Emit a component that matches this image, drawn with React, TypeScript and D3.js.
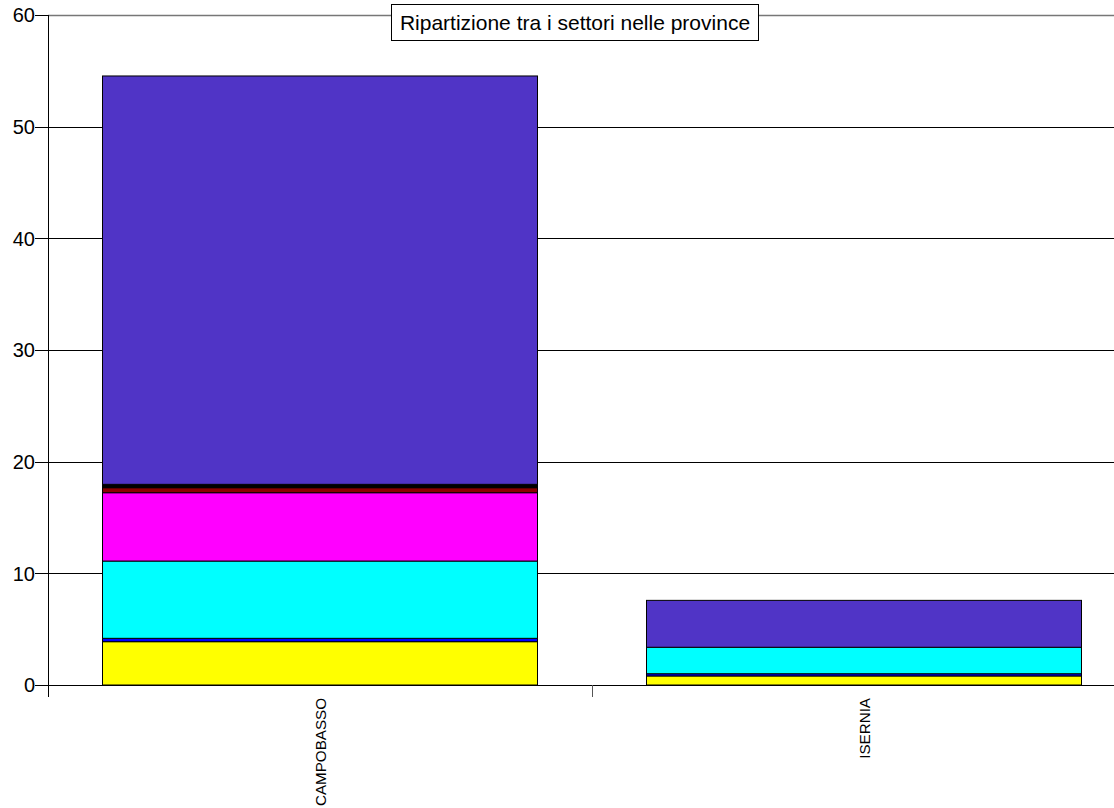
import React from "react";
import * as d3 from "d3";

const categories = ["CAMPOBASSO", "ISERNIA"];
const seriesNames = ["Settore A", "Settore B", "Settore C", "Settore D", "Settore E", "Settore F", "Settore G"];
const seriesColors = ["#ffff00", "#0000ff", "#00ffff", "#ff00ff", "#8b0000", "#000000", "#5034c6"];
const campobassoValues = [3.88, 0.3, 6.92, 6.12, 0.45, 0.3, 36.57];
const iserniaValues = [0.81, 0.2, 2.37, 0, 0, 0, 4.2];
const yTicks = [0, 10, 20, 30, 40, 50, 60];
const title = "Ripartizione tra i settori nelle province";

const W = 1114;
const H = 808;
const left = 48;
const top = 15;
const bottom = 685;
const right = 1136;
const font = "'Liberation Sans', Arial, sans-serif";

export default function App() {
  const rows = categories.map((c, i) => {
    const vals = i === 0 ? campobassoValues : iserniaValues;
    const r: any = { cat: c };
    seriesNames.forEach((s, j) => (r[s] = vals[j]));
    return r;
  });
  const stacked = d3.stack().keys(seriesNames)(rows);
  const x = d3.scaleBand().domain(categories).range([left, right]).paddingInner(0.2).paddingOuter(0.1);
  const y = d3.scaleLinear().domain([0, 60]).range([bottom, top]);
  const step = x.step();

  return (
    <svg width={W} height={H} style={{ position: "fixed", left: 0, top: 0, background: "#fff" }}>
      <rect x={0} y={0} width={W} height={H} fill="#fff" />
      {yTicks.map((t) => (
        <g key={t}>
          <line x1={left} x2={W} y1={Math.round(y(t)) + 0.5} y2={Math.round(y(t)) + 0.5} stroke={t === 60 ? "#777" : "#000"} strokeWidth={t === 60 ? 1.5 : 1} />
          <line x1={left - 13} x2={left} y1={Math.round(y(t)) + 0.5} y2={Math.round(y(t)) + 0.5} stroke="#000" />
          <text x={left - 13} y={y(t)} dy="0.36em" textAnchor="end" fontFamily={font} fontSize={20} fill="#000">
            {t}
          </text>
        </g>
      ))}
      {stacked.map((layer, li) =>
        layer.map((d, di) => {
          const h = y(d[0]) - y(d[1]);
          if (h <= 0) return null;
          return (
            <rect
              key={li + "-" + di}
              x={Math.round(x(categories[di])!) + 0.5}
              y={y(d[1])}
              width={Math.round(x.bandwidth())}
              height={h}
              fill={seriesColors[li]}
              stroke="#000"
              strokeWidth={1}
            />
          );
        })
      )}
      <line x1={left + 0.5} x2={left + 0.5} y1={top} y2={bottom + 12} stroke="#000" />
      <line x1={left} x2={W} y1={bottom + 0.5} y2={bottom + 0.5} stroke="#000" />
      {categories.slice(1).map((c) => (
        <line key={c} x1={Math.round(x(c)! - step * 0.1) + 0.5} x2={Math.round(x(c)! - step * 0.1) + 0.5} y1={bottom} y2={bottom + 12} stroke="#555" />
      ))}
      {categories.map((c) => {
        const cx = x(c)! + x.bandwidth() / 2;
        return (
          <text key={c} transform={`translate(${cx + 6},${bottom + 13}) rotate(-90)`} textAnchor="end" fontFamily={font} fontSize={15.2} fill="#000">
            {c}
          </text>
        );
      })}
      <rect x={391.5} y={4.5} width={367} height={36} fill="#fff" stroke="#000" />
      <text x={575} y={30} textAnchor="middle" fontFamily={font} fontSize={21} fill="#000">
        {title}
      </text>
    </svg>
  );
}
